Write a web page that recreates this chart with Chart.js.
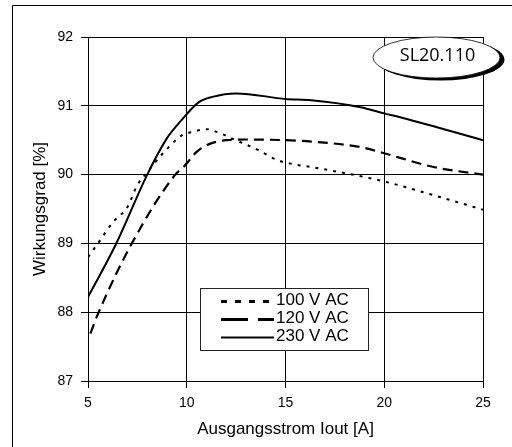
<!DOCTYPE html>
<html>
<head>
<meta charset="utf-8">
<script src="https://cdn.jsdelivr.net/npm/chart.js@4/dist/chart.umd.min.js"></script>
<style>
  html, body { margin: 0; padding: 0; background: #fff; }
  canvas { display: block; }
</style>
</head>
<body>
<canvas id="chart" width="512" height="447"></canvas>
<script>
// values
const seriesLabels = ['100 V AC', '120 V AC', '230 V AC'];

const current100 = [5, 5.45, 6.3, 7.0, 7.5, 7.9, 8.8, 9.8, 10.3, 11.0, 11.7, 12.4, 13.6, 14.6, 15.6, 16.3, 20, 22.5, 25];
const eff100     = [88.8, 88.98, 89.32, 89.53, 89.85, 90.0, 90.31, 90.58, 90.62, 90.66, 90.6, 90.51, 90.36, 90.21, 90.14, 90.11, 89.9, 89.7, 89.49];

const current120 = [5.12, 5.54, 7.22, 9.42, 9.84, 10.5, 11.2, 12.0, 13.0, 15, 16.3, 18.8, 20, 22.5, 25];
const eff120     = [87.69, 88.0, 89.0, 90.0, 90.11, 90.33, 90.45, 90.5, 90.51, 90.5, 90.48, 90.4, 90.31, 90.11, 90.0];

const current230 = [5, 6.4, 8.0, 9.0, 9.7, 10.6, 11.3, 12.5, 15, 16.3, 18.8, 20, 21, 25];
const eff230     = [88.22, 88.98, 90.0, 90.53, 90.78, 91.05, 91.13, 91.18, 91.1, 91.08, 90.98, 90.89, 90.82, 90.5];

const xTicks = [5, 10, 15, 20, 25];
const yTicks = [87, 88, 89, 90, 91, 92];

const FONT = '"Liberation Sans", Arial, sans-serif';

function points(xs, ys) {
    return xs.map((x, i) => ({ x: x, y: ys[i] }));
}

const decorations = {
    id: 'decorations',
    beforeDraw(chart) {
        const ctx = chart.ctx;
        ctx.save();
        ctx.fillStyle = '#fff';
        ctx.fillRect(0, 0, chart.width, chart.height);
        // outer frame, only left and top edges are inside the picture
        ctx.strokeStyle = '#000';
        ctx.lineWidth = 1;
        ctx.beginPath();
        ctx.moveTo(12.5, chart.height);
        ctx.lineTo(12.5, 5.5);
        ctx.lineTo(chart.width, 5.5);
        ctx.stroke();
        ctx.restore();
    },
    afterDraw(chart) {
        const ctx = chart.ctx;
        const sets = chart.data.datasets;
        ctx.save();

        // legend box
        ctx.fillStyle = '#fff';
        ctx.fillRect(200, 288, 169, 63);
        ctx.strokeStyle = '#222';
        ctx.lineWidth = 1;
        ctx.strokeRect(200.5, 288.5, 168, 62);

        const sampleDash = [[6, 8], [27, 10], []];
        const rowY = [300, 318, 336];
        sets.forEach((ds, i) => {
            ctx.strokeStyle = '#000';
            ctx.lineWidth = i === 2 ? 2 : 3;
            ctx.setLineDash(sampleDash[i]);
            ctx.beginPath();
            ctx.moveTo(221, rowY[i] + 1.5);
            ctx.lineTo(274, rowY[i] + 1.5);
            ctx.stroke();
            ctx.setLineDash([]);
            ctx.fillStyle = '#000';
            ctx.font = '17px ' + FONT;
            ctx.textBaseline = 'middle';
            ctx.textAlign = 'left';
            ctx.fillText(ds.label, 276, rowY[i]);
        });

        // model badge with shadow
        ctx.fillStyle = '#000';
        ctx.beginPath();
        ctx.ellipse(440.5, 59.5, 64, 21, 0, 0, Math.PI * 2);
        ctx.fill();
        ctx.fillStyle = '#fff';
        ctx.beginPath();
        ctx.ellipse(436.5, 57.5, 63.5, 20.5, 0, 0, Math.PI * 2);
        ctx.fill();
        ctx.strokeStyle = '#000';
        ctx.lineWidth = 0.8;
        ctx.stroke();
        ctx.fillStyle = '#000';
        ctx.font = '18px "Open Sans", sans-serif';
        ctx.textAlign = 'center';
        ctx.textBaseline = 'middle';
        ctx.fillText('SL20.110', 437.5, 56);
        ctx.restore();
    }
};

const chart = new Chart(document.getElementById('chart'), {
    type: 'line',
    data: {
        datasets: [
            {
                label: seriesLabels[0],
                data: points(current100, eff100),
                borderColor: '#000',
                borderWidth: 2,
                borderDash: [3, 6],
                pointRadius: 0,
                fill: false,
                cubicInterpolationMode: 'monotone'
            },
            {
                label: seriesLabels[1],
                data: points(current120, eff120),
                borderColor: '#000',
                borderWidth: 2.2,
                borderDash: [10, 6],
                pointRadius: 0,
                fill: false,
                cubicInterpolationMode: 'monotone'
            },
            {
                label: seriesLabels[2],
                data: points(current230, eff230),
                borderColor: '#000',
                borderWidth: 2,
                pointRadius: 0,
                fill: false,
                cubicInterpolationMode: 'monotone'
            }
        ]
    },
    options: {
        responsive: false,
        animation: false,
        devicePixelRatio: 1,
        layout: { padding: { top: 37, right: 29, bottom: 0, left: 0 } },
        plugins: {
            legend: { display: false },
            tooltip: { enabled: false }
        },
        scales: {
            x: {
                type: 'linear',
                min: 5,
                max: 25,
                afterBuildTicks: s => { s.ticks = xTicks.map(v => ({ value: v })); },
                afterFit: s => { s.height = 66; },
                grid: { color: '#000', tickColor: '#000', tickLength: 7, lineWidth: 1 },
                border: { color: '#000' },
                ticks: { color: '#000', font: { family: FONT, size: 14 }, padding: 7, maxRotation: 0 },
                title: {
                    display: true,
                    text: 'Ausgangsstrom Iout [A]',
                    color: '#000',
                    font: { family: FONT, size: 17 },
                    padding: { top: 0, bottom: 7 }
                }
            },
            y: {
                type: 'linear',
                min: 87,
                max: 92,
                afterBuildTicks: s => { s.ticks = yTicks.map(v => ({ value: v })); },
                afterFit: s => { s.width = 88; },
                grid: { color: '#000', tickColor: '#000', tickLength: 7, lineWidth: 1 },
                border: { color: '#000' },
                ticks: { color: '#000', font: { family: FONT, size: 14 }, padding: 8 },
                title: {
                    display: true,
                    text: 'Wirkungsgrad [%]',
                    color: '#000',
                    font: { family: FONT, size: 17 },
                    padding: { top: 30, bottom: 0 }
                }
            }
        }
    },
    plugins: [decorations]
});
</script>
</body>
</html>
